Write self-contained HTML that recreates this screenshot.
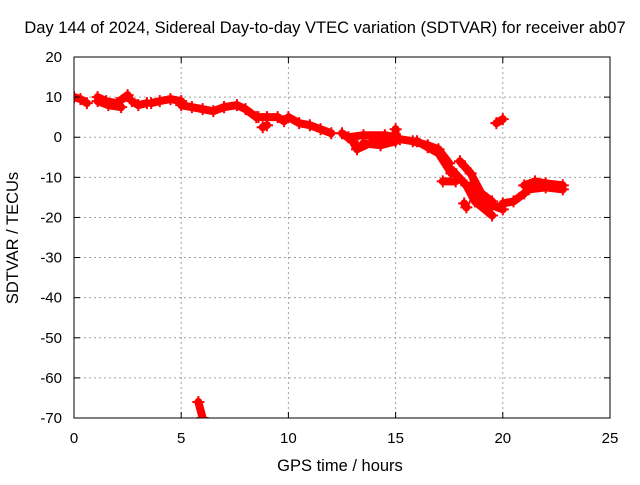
<!DOCTYPE html>
<html><head><meta charset="utf-8"><style>
body{margin:0;background:#fff}
svg text{font-family:"Liberation Sans",sans-serif;font-size:15px;fill:#000}
svg text.big{font-size:16.5px}
</style></head><body>
<svg id="c" width="640" height="480">
<rect x="0" y="0" width="640" height="480" fill="#fff"/>
<g id="grid"></g><g id="data" clip-path="url(#clip)"></g><g id="axes"></g>
<defs><clipPath id="clip"><rect x="74" y="57" width="536" height="361"/></clipPath></defs>
<text class="big" x="325" y="33" text-anchor="middle">Day 144 of 2024, Sidereal Day-to-day VTEC variation (SDTVAR) for receiver ab07</text>
<text class="big" x="340" y="471" text-anchor="middle">GPS time / hours</text>
<text class="big" x="18" y="238" text-anchor="middle" transform="rotate(-90 18 238)">SDTVAR / TECUs</text>
</svg>
<script>
const xTicks=[0,5,10,15,20,25];
const yTicks=[20,10,0,-10,-20,-30,-40,-50,-60,-70];
const tracks=[
[[0,10],[0.3,9.5],[0.6,8.5]],
[[1.1,10],[1.5,9],[2,8.5],[2.5,10.5]],
[[1.1,9],[1.6,8],[2.2,7.5]],
[[2.7,9],[3,8],[3.4,8.5]],
[[3.6,8.5],[4,9],[4.5,9.5],[5,9]],
[[5,8],[5.5,7.5],[6,7],[6.5,6.5],[7,7.5]],
[[7,7.5],[7.6,8],[8,7],[8.5,5]],
[[8.6,5],[9,5],[9.5,5],[9.8,4]],
[[8.8,2.5],[9,3]],
[[10,5],[10.5,3.5],[11,3],[11.5,2],[12,1]],
[[12.5,1],[13,-1],[13.2,-3],[14,-1],[15,0],[15,2]],
[[12.8,0],[13.5,0.5],[14.5,0.5],[15,0]],
[[13.5,-1.5],[14.3,-2],[15,-1]],
[[15.2,-0.5],[15.8,-1],[16.5,-2],[17,-3],[17.5,-6.5]],
[[16,-1],[16.5,-2.5],[17,-4],[17.6,-9]],
[[17.2,-11],[17.8,-11]],
[[18,-6],[18.5,-9],[19,-14],[19.5,-16]],
[[17.6,-8],[18.3,-12],[18.7,-16],[19.5,-19.5]],
[[18.5,-12],[19,-15],[19.5,-17],[20,-18]],
[[18.2,-16.5],[18.3,-17.5]],
[[20,-16.5],[20.5,-16],[21,-14]],
[[21,-12],[21.5,-11],[22,-11.5],[22.8,-12]],
[[21.2,-13],[22,-12.5],[22.8,-13]],
[[19.7,3.5],[20,4.5]],
[[5.8,-66],[6,-70]]
];
const X=h=>74+h*536/25, Y=v=>57+(20-v)*361/90;
const NS="http://www.w3.org/2000/svg";
const g=document.getElementById('grid'),a=document.getElementById('axes'),d=document.getElementById('data');
function mk(t,at,p){const e=document.createElementNS(NS,t);for(const k in at)e.setAttribute(k,at[k]);p.appendChild(e);return e;}
xTicks.forEach(t=>{
 if(t>0&&t<25){const l=mk('line',{x1:X(t),x2:X(t),y1:57,y2:418,stroke:'#a0a0a0','stroke-dasharray':'2,3'},g);
 
 }
 mk('line',{x1:X(t),x2:X(t),y1:418,y2:412,stroke:'#000'},a);
 mk('line',{x1:X(t),x2:X(t),y1:57,y2:63,stroke:'#000'},a);
 const tx=mk('text',{x:X(t),y:443,'text-anchor':'middle'},a);tx.textContent=t;
 
 
});
yTicks.forEach(t=>{
 if(t<20&&t>-70){const l=mk('line',{x1:74,x2:610,y1:Y(t),y2:Y(t),stroke:'#a0a0a0','stroke-dasharray':'2,3'},g);
 
 }
 mk('line',{x1:74,x2:80,y1:Y(t),y2:Y(t),stroke:'#000'},a);
 mk('line',{x1:604,x2:610,y1:Y(t),y2:Y(t),stroke:'#000'},a);
 const tx=mk('text',{x:62,y:Y(t)+5,'text-anchor':'end'},a);tx.textContent=t;
 
 
});
const fr=mk('rect',{x:74,y:57,width:536,height:361,fill:'none',stroke:'#000'},a);


tracks.forEach(tr=>{
 const pl=mk('polyline',{points:tr.map(p=>X(p[0])+','+Y(p[1])).join(' '),fill:'none',stroke:'#f00','stroke-width':8,'stroke-linejoin':'round','stroke-linecap':'round'},d);
 
 
 tr.forEach(p=>{const x=X(p[0]),y=Y(p[1]);
  const m=mk('path',{d:`M${x-6},${y}h12M${x},${y-6}v12`,stroke:'#f00','stroke-width':2},d);
  
  });
});
</script>
</body></html>
